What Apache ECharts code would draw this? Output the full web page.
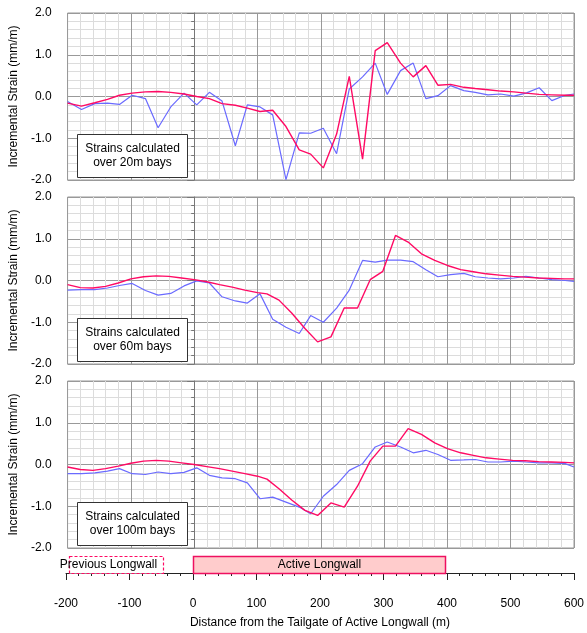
<!DOCTYPE html>
<html>
<head>
<meta charset="utf-8">
<script src="https://cdn.jsdelivr.net/npm/echarts@6/dist/echarts.min.js"></script>
<style>
html,body{margin:0;padding:0;background:#fff;}
#chart{width:587px;height:633px;}
</style>
</head>
<body>
<div id="chart"></div>
<script>
// Measured positions (m) for the 20m / 60m / 100m measured strains
const xPos = [-200,-178,-157,-137,-118,-98,-77,-57,-37,-16,4,24,44,65,84,104,124,145,166,184,204,225,245,266,286,305,326,346,366,385,405,426,444,464,484,505,524,545,565,586,600];
// Positions (m) of the predicted strain points for the 60m and 100m panels
const xPred = [-200,-180,-160,-140,-120,-100,-80,-60,-40,-20,0,20,40,60,80,100,115,134,154,175,195,216,237,258,278,298,318,338,359,380,400,421,441,461,482,503,523,544,564,585,600];

// Panel 1: 20m bays
const blue20 = [-0.12,-0.31,-0.17,-0.16,-0.19,0.03,-0.05,-0.75,-0.25,0.08,-0.20,0.10,-0.11,-1.18,-0.20,-0.25,-0.44,-1.99,-0.87,-0.88,-0.76,-1.37,0.18,0.47,0.80,0.05,0.62,0.80,-0.05,0.02,0.26,0.14,0.10,0.04,0.06,0.01,0.08,0.21,-0.10,0.03,0.06];
const red20 = [-0.16,-0.23,-0.15,-0.07,0.03,0.08,0.11,0.12,0.10,0.06,0.00,-0.05,-0.17,-0.21,-0.28,-0.36,-0.33,-0.72,-1.28,-1.38,-1.71,-0.90,0.48,-1.50,1.10,1.29,0.80,0.47,0.74,0.27,0.29,0.22,0.19,0.16,0.13,0.11,0.08,0.05,0.04,0.03,0.03];

// Panel 2: 60m bays
const blue60 = [-0.23,-0.22,-0.22,-0.18,-0.12,-0.07,-0.24,-0.35,-0.31,-0.13,-0.01,-0.06,-0.39,-0.49,-0.54,-0.32,-0.93,-1.12,-1.27,-0.84,-1.00,-0.66,-0.23,0.48,0.44,0.49,0.49,0.45,0.26,0.09,0.14,0.17,0.09,0.06,0.04,0.06,0.10,0.06,0.02,0.00,-0.02];
const red60 = [-0.10,-0.17,-0.18,-0.14,-0.06,0.04,0.09,0.11,0.10,0.06,0.02,-0.03,-0.10,-0.16,-0.23,-0.29,-0.32,-0.47,-0.78,-1.15,-1.47,-1.35,-0.66,-0.66,0.02,0.22,1.08,0.92,0.64,0.48,0.36,0.26,0.21,0.16,0.13,0.10,0.08,0.06,0.05,0.04,0.04];

// Panel 3: 100m bays
const blue100 = [-0.22,-0.22,-0.20,-0.16,-0.10,-0.22,-0.24,-0.18,-0.22,-0.19,-0.08,-0.26,-0.32,-0.34,-0.44,-0.82,-0.78,-0.90,-1.02,-1.18,-0.76,-0.48,-0.14,0.02,0.42,0.54,0.42,0.28,0.34,0.24,0.10,0.11,0.12,0.06,0.06,0.08,0.06,0.04,0.04,0.02,-0.06];
const red100 = [-0.06,-0.12,-0.14,-0.10,-0.04,0.03,0.08,0.10,0.08,0.04,0.00,-0.05,-0.10,-0.16,-0.22,-0.28,-0.35,-0.58,-0.85,-1.10,-1.22,-0.92,-1.02,-0.52,0.08,0.44,0.44,0.86,0.72,0.52,0.38,0.28,0.22,0.16,0.13,0.10,0.09,0.07,0.06,0.05,0.04];

const panelLabels = ['Strains calculated\nover 20m bays','Strains calculated\nover 60m bays','Strains calculated\nover 100m bays'];
const yTicks = [-2, -1, 0, 1, 2];
const xTicks = [-200, -100, 0, 100, 200, 300, 400, 500, 600];

// Longwall extents (m)
const lwNames = ['Previous Longwall', 'Active Longwall'];
const lwStart = [-195, 0];
const lwEnd = [-47, 397];

const FONT = 'Liberation Sans, Arial, sans-serif';
const BLUE = '#6a6aff';
const RED = '#ff0a64';

const panelTops = [13, 197, 381];
const panelH = 167;

const grids = [];
const xAxes = [];
const yAxes = [];
const series = [];
const graphics = [];

const blues = [blue20, blue60, blue100];
const reds = [red20, red60, red100];
const redX = [xPos, xPred, xPred];

for (let i = 0; i < 3; i++) {
  grids.push({left: 66, width: 508, top: panelTops[i], height: panelH, show: true, borderColor: '#999', borderWidth: 1, backgroundColor: '#fff'});
  xAxes.push({
    gridIndex: i, type: 'value', min: xTicks[0], max: xTicks[xTicks.length-1], interval: 100,
    axisLine: {show: false}, axisTick: {show: false}, axisLabel: {show: false},
    minorTick: {show: false, splitNumber: 5},
    splitLine: {show: true, lineStyle: {color: '#999', width: 1}},
    minorSplitLine: {show: true, lineStyle: {color: '#dcdcdc', width: 1}}
  });
  yAxes.push({
    gridIndex: i, type: 'value', min: yTicks[0], max: yTicks[yTicks.length-1], interval: 1,
    name: 'Incremental Strain (mm/m)', nameLocation: 'middle', nameGap: 41,
    nameTextStyle: {fontFamily: FONT, fontSize: 12, color: '#000'},
    axisLine: {show: true, lineStyle: {color: '#777', width: 1}},
    axisTick: {show: true, length: 7, lineStyle: {color: '#777'}},
    minorTick: {show: true, splitNumber: 5, length: 3, lineStyle: {color: '#777'}},
    axisLabel: {fontFamily: FONT, fontSize: 12, color: '#000', margin: 16, formatter: v => v.toFixed(1)},
    splitLine: {show: true, lineStyle: {color: '#999', width: 1}},
    minorSplitLine: {show: true, lineStyle: {color: '#dcdcdc', width: 1}}
  });
  series.push({
    type: 'line', xAxisIndex: i, yAxisIndex: i, showSymbol: false, silent: true, animation: false,
    lineStyle: {color: BLUE, width: 1.2}, z: 3,
    data: xPos.map((x, k) => [x, blues[i][k]])
  });
  series.push({
    type: 'line', xAxisIndex: i, yAxisIndex: i, showSymbol: false, silent: true, animation: false,
    lineStyle: {color: RED, width: 1.4}, z: 4,
    data: redX[i].map((x, k) => [x, reds[i][k]])
  });
  const bt = panelTops[i] + 121;
  graphics.push({
    type: 'rect', z: 10,
    shape: {x: 77.5, y: bt + 0.5, width: 110, height: 43},
    style: {fill: '#fff', stroke: '#333', lineWidth: 1}
  });
  graphics.push({
    type: 'text', z: 11,
    style: {x: 132.5, y: bt + 22, text: panelLabels[i], textAlign: 'center', textVerticalAlign: 'middle',
      font: '12px ' + FONT, fill: '#000', lineHeight: 14}
  });
}

// Bottom strip with longwall boxes and the distance axis
grids.push({left: 66, width: 508, top: 556, height: 17, show: false});
xAxes.push({
  gridIndex: 3, type: 'value', min: xTicks[0], max: xTicks[xTicks.length-1], interval: 100, offset: 9,
  name: 'Distance from the Tailgate of Active Longwall (m)', nameLocation: 'middle', nameGap: 35,
  nameTextStyle: {fontFamily: FONT, fontSize: 12, color: '#000'},
  axisLine: {show: true, lineStyle: {color: '#222', width: 1}},
  axisTick: {show: true, length: 7, lineStyle: {color: '#222'}},
  minorTick: {show: true, splitNumber: 5, length: 3, lineStyle: {color: '#222'}},
  axisLabel: {fontFamily: FONT, fontSize: 12, color: '#000', margin: 16},
  splitLine: {show: false}
});
yAxes.push({gridIndex: 3, type: 'value', min: 0, max: 1, show: false});
series.push({
  type: 'custom', xAxisIndex: 3, yAxisIndex: 3, silent: true, animation: false,
  data: lwNames.map((n, k) => [lwStart[k], lwEnd[k], k]),
  renderItem: function (params, api) {
    const s = api.value(0), e = api.value(1), k = api.value(2);
    const p0 = api.coord([s, 1]);
    const p1 = api.coord([e, 0]);
    const x0 = Math.round(p0[0]) + 0.5, y0 = Math.round(p0[1]) + 0.5;
    const x1 = Math.round(p1[0]) + 0.5, y1 = Math.round(p1[1]) + 0.5;
    const prev = k === 0;
    return {
      type: 'group',
      children: [
        {type: 'rect', shape: {x: x0, y: y0, width: x1 - x0, height: y1 - y0},
          style: prev ? {fill: '#fff', stroke: RED, lineWidth: 1.2, lineDash: [3, 2]}
                      : {fill: '#ffcccc', stroke: '#ee1060', lineWidth: 1.5}},
        {type: 'text', style: {x: (x0 + x1) / 2 + (prev ? -8 : 0), y: (y0 + y1) / 2, text: lwNames[k],
          textAlign: 'center', textVerticalAlign: 'middle', font: '12px ' + FONT, fill: '#000'}}
      ]
    };
  }
});

const chart = echarts.init(document.getElementById('chart'), null, {renderer: 'canvas'});
chart.setOption({
  animation: false,
  backgroundColor: '#fff',
  grid: grids,
  xAxis: xAxes,
  yAxis: yAxes,
  series: series,
  graphic: graphics
});
</script>
</body>
</html>
